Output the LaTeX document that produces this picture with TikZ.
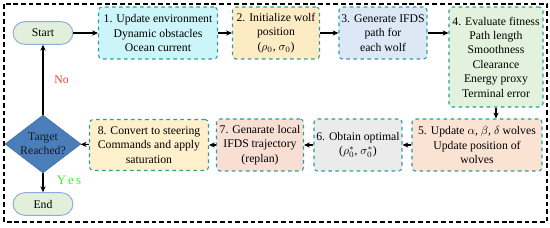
\documentclass[tikz,border=0pt]{standalone}
\usepackage{fontspec}
\setmainfont{Liberation Serif}
\usetikzlibrary{shapes.geometric,arrows.meta}
\definecolor{edgeteal}{HTML}{2A9D9D}
\definecolor{termfill}{HTML}{E2EFDA}
\definecolor{termedge}{HTML}{8FAADC}
\definecolor{fillone}{HTML}{CCF5F9}
\definecolor{filltwo}{HTML}{FDEBC4}
\definecolor{fillthree}{HTML}{DCE8F6}
\definecolor{fillfour}{HTML}{E2F2DC}
\definecolor{fillfive}{HTML}{FBE3D3}
\definecolor{fillsix}{HTML}{EBEBEB}
\definecolor{fillseven}{HTML}{F9DED4}
\definecolor{filleight}{HTML}{FFF0CC}
\definecolor{decfill}{HTML}{4A7EBB}
\definecolor{decedge}{HTML}{41719C}
\definecolor{nored}{HTML}{FF3B2F}
\definecolor{yesgreen}{HTML}{3CF03C}
\tikzset{
  stepbox/.style={draw=edgeteal, dashed, line width=0.9pt, rounded corners=3pt,
    align=center, inner sep=1pt, font=\fontsize{10}{12.3}\selectfont},
  termbox/.style={draw=termedge, fill=termfill, line width=0.8pt, rounded corners=10pt,
    minimum width=1.8cm, minimum height=0.68cm, font=\fontsize{10}{12.3}\selectfont},
  decbox/.style={diamond, draw=decedge, fill=decfill, shape aspect=1.31, inner sep=-0.45mm,
    minimum width=2.28cm, minimum height=1.74cm, align=center,
    font=\fontsize{10}{12.3}\selectfont, text=black!90},
  flow/.style={-{Stealth[length=5pt,width=4.5pt]}, line width=0.9pt}
}
\begin{document}
\begin{tikzpicture}[x=0.03cm, y=-0.03cm]
  \useasboundingbox (0,0) rectangle (550,228);
  % marco exterior
  \draw[dashed, line width=1.1pt, dash pattern=on 4pt off 2.5pt] (4,4) rectangle (547,222);
  % fila superior
  \node[termbox] (start) at (43,33) {Start};
  \node[stepbox, fill=fillone, minimum width=3.57cm, minimum height=1.56cm] (upd) at (158,33)
    {1. Update environment\\Dynamic obstacles\\Ocean current};
  \node[stepbox, fill=filltwo, minimum width=2.61cm, minimum height=1.56cm] (init) at (276,33)
    {2. Initialize wolf\\position\\($\rho_0$,\ $\sigma_0$)};
  \node[stepbox, fill=fillthree, minimum width=2.64cm, minimum height=1.56cm] (gen) at (383,33)
    {3. Generate IFDS\\path for\\each wolf};
  \node[stepbox, fill=fillfour, minimum width=2.82cm, minimum height=3.0cm] (eval) at (496,57)
    {4. Evaluate fitness\\Path length\\Smoothness\\Clearance\\Energy proxy\\Terminal error};
  % fila inferior
  \node[stepbox, fill=fillfive, minimum width=3.9cm, minimum height=1.56cm] (wolves) at (477,145)
    {5. Update $\alpha$,\ $\beta$,\ $\delta$\ wolves\\Update position of\\wolves};
  \node[stepbox, fill=fillsix, minimum width=2.64cm, minimum height=1.56cm] (opt) at (358,145)
    {6. Obtain optimal\\($\rho_0^*$,\ $\sigma_0^*$)};
  \node[stepbox, fill=fillseven, minimum width=2.61cm, minimum height=1.56cm] (loc) at (260,145)
    {7. Genarate local\\IFDS trajectory\\(replan)};
  \node[stepbox, fill=filleight, minimum width=3.57cm, minimum height=1.53cm] (conv) at (149,145)
    {8. Convert to steering\\Commands and apply\\saturation};
  \node[decbox] (target) at (43,144) {Target\\Reached?};
  \node[termbox] (end) at (43,204) {End};
  % conectores
  \draw[flow] (start) -- (upd);
  \draw[flow] (upd) -- (init);
  \draw[flow] (init) -- (gen);
  \draw[flow] (gen.east) -- (gen.east -| eval.west);
  \draw[flow] (eval.south) -- (eval.south |- wolves.north);
  \draw[flow] (wolves) -- (opt);
  \draw[flow] (opt) -- (loc);
  \draw[flow] (loc) -- (conv);
  \draw[flow] (conv) -- (target);
  \draw[flow] (target) -- node[pos=0.5, right=6pt, text=nored, font=\fontsize{10}{12}\selectfont] (nolbl) {No} (start);
  \draw[flow] (target) -- node[pos=0.35, right=8pt, text=yesgreen, font=\fontsize{11}{12}\selectfont] (yeslbl) {Y\,e\,s} (end);
\end{tikzpicture}
\end{document}
